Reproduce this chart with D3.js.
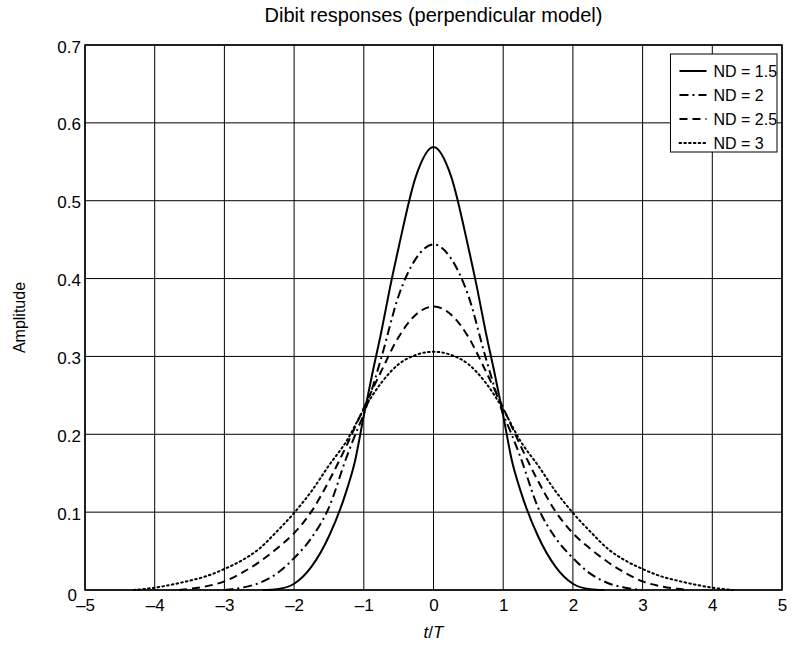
<!DOCTYPE html>
<html>
<head>
<meta charset="utf-8">
<script src="https://cdn.jsdelivr.net/npm/d3@7/dist/d3.min.js"></script>
<style>
  html, body { margin: 0; padding: 0; background: #fff; }
  svg { display: block; }
  text { font-family: "Liberation Sans", Arial, Helvetica, sans-serif; fill: #000; }
</style>
</head>
<body>
<script>
// ---- data ----
const seriesNames = ["ND = 1.5", "ND = 2", "ND = 2.5", "ND = 3"];

const tND15 = [-2.45,-2.25,-2,-1.75,-1.5,-1.25,-1.125,-1,-0.875,-0.75,-0.625,-0.5,-0.25,0,0.25,0.5,0.625,0.75,0.875,1,1.125,1.25,1.5,1.75,2,2.25,2.45];
const vND15 = [0,0.001,0.008,0.030,0.069,0.127,0.166,0.224,0.279,0.331,0.388,0.440,0.532,0.569,0.532,0.440,0.388,0.331,0.279,0.224,0.166,0.127,0.069,0.030,0.008,0.001,0];

const tND2 = [-3,-2.75,-2.5,-2.25,-2,-1.75,-1.5,-1.25,-1.125,-1,-0.75,-0.5,-0.25,0,0.25,0.5,0.75,1,1.125,1.25,1.5,1.75,2,2.25,2.5,2.75,3];
const vND2 = [0,0.003,0.009,0.021,0.041,0.067,0.106,0.170,0.199,0.226,0.298,0.378,0.426,0.444,0.426,0.378,0.298,0.226,0.199,0.170,0.106,0.067,0.041,0.021,0.009,0.003,0];

const tND25 = [-3.65,-3.5,-3.25,-3,-2.75,-2.5,-2.25,-2,-1.75,-1.5,-1.25,-1,-0.75,-0.5,-0.25,0,0.25,0.5,0.75,1,1.25,1.5,1.75,2,2.25,2.5,2.75,3,3.25,3.5,3.65];
const vND25 = [0,0.0015,0.005,0.011,0.022,0.036,0.053,0.073,0.101,0.140,0.185,0.234,0.281,0.325,0.354,0.364,0.354,0.325,0.281,0.234,0.185,0.140,0.101,0.073,0.053,0.036,0.022,0.011,0.005,0.0015,0];

const tND3 = [-4.3,-4,-3.75,-3.5,-3.25,-3,-2.75,-2.5,-2.25,-2,-1.75,-1.5,-1.25,-1,-0.75,-0.5,-0.25,0,0.25,0.5,0.75,1,1.25,1.5,1.75,2,2.25,2.5,2.75,3,3.25,3.5,3.75,4,4.3];
const vND3 = [0,0.003,0.007,0.012,0.018,0.027,0.038,0.053,0.075,0.099,0.127,0.160,0.191,0.232,0.266,0.290,0.302,0.306,0.302,0.290,0.266,0.232,0.191,0.160,0.127,0.099,0.075,0.053,0.038,0.027,0.018,0.012,0.007,0.003,0];

const xTicks = [-5,-4,-3,-2,-1,0,1,2,3,4,5];
const yTicks = [0,0.1,0.2,0.3,0.4,0.5,0.6,0.7];

const titleText = "Dibit responses (perpendicular model)";
const xLabelItalic1 = "t";
const xLabelMid = "/";
const xLabelItalic2 = "T";
const yLabelText = "Amplitude";

// ---- layout ----
const W = 802, H = 650;
const margin = { left: 85, right: 20, top: 45, bottom: 60 };
const plotW = W - margin.left - margin.right;   // 697
const plotH = H - margin.top - margin.bottom;   // 545

const svg = d3.select("body").append("svg").attr("width", W).attr("height", H);
const g = svg.append("g").attr("transform", `translate(${margin.left},${margin.top})`);

const x = d3.scaleLinear().domain([-5, 5]).range([0, plotW]);
const y = d3.scaleLinear().domain([0, 0.7]).range([plotH, 0]);

// grid
g.append("g").selectAll("line").data(xTicks).join("line")
  .attr("x1", d => x(d)).attr("x2", d => x(d)).attr("y1", 0).attr("y2", plotH)
  .attr("stroke", "#000").attr("stroke-width", 1);
g.append("g").selectAll("line").data(yTicks).join("line")
  .attr("x1", 0).attr("x2", plotW).attr("y1", d => y(d)).attr("y2", d => y(d))
  .attr("stroke", "#000").attr("stroke-width", 1);

// axes
const fmtX = d => d < 0 ? "\u2013" + Math.abs(d) : String(d);
const xAxis = g.append("g").attr("transform", `translate(0,${plotH})`)
  .call(d3.axisBottom(x).tickValues(xTicks).tickFormat(fmtX).tickSize(0).tickPadding(9));
xAxis.select(".domain").remove();
xAxis.selectAll("text").attr("font-size", 17).style("font-family", null);

const yAxis = g.append("g")
  .call(d3.axisLeft(y).tickValues(yTicks).tickFormat(d => d === 0 ? "0" : d3.format(".1f")(d)).tickSize(0).tickPadding(4));
yAxis.select(".domain").remove();
yAxis.selectAll("text").attr("font-size", 17).attr("dy", "0.42em").style("font-family", null);
yAxis.selectAll("text").filter(d => d === 0).attr("dy", "0.6em").attr("dx", "-4");

// frame
g.append("rect").attr("x", 0).attr("y", 0).attr("width", plotW).attr("height", plotH)
  .attr("fill", "none").attr("stroke", "#000").attr("stroke-width", 1.5);

// series
const styles = [
  { dash: null },
  { dash: "9,4,2,4" },
  { dash: "8,5" },
  { dash: "1.6,3.2" }
];
const seriesData = [
  d3.zip(tND15, vND15),
  d3.zip(tND2, vND2),
  d3.zip(tND25, vND25),
  d3.zip(tND3, vND3)
];
const line = d3.line().x(d => x(d[0])).y(d => y(d[1])).curve(d3.curveMonotoneX);
seriesData.forEach((data, i) => {
  g.append("path").datum(data).attr("d", line)
    .attr("fill", "none").attr("stroke", "#000").attr("stroke-width", 2)
    .attr("stroke-dasharray", styles[i].dash)
    .attr("stroke-linecap", i === 3 ? "round" : "butt");
});

// legend
const lg = g.append("g").attr("transform", `translate(${x(3.4)},${9})`);
const lgW = x(5) - 5 - x(3.4), lgH = 98;
lg.append("rect").attr("width", lgW).attr("height", lgH)
  .attr("fill", "#fff").attr("stroke", "#000").attr("stroke-width", 1);
seriesNames.forEach((name, i) => {
  const yy = 17 + i * 24;
  lg.append("line").attr("x1", 9).attr("x2", 36).attr("y1", yy).attr("y2", yy)
    .attr("stroke", "#000").attr("stroke-width", 2)
    .attr("stroke-dasharray", styles[i].dash)
    .attr("stroke-linecap", i === 3 ? "round" : "butt");
  lg.append("text").attr("x", 43).attr("y", yy).attr("dy", "0.36em")
    .attr("font-size", 16).text(name);
});

// title
svg.append("text").attr("x", margin.left + plotW / 2).attr("y", 22)
  .attr("text-anchor", "middle").attr("font-size", 20).text(titleText);

// x label
const xl = svg.append("text").attr("x", margin.left + plotW / 2).attr("y", 638)
  .attr("text-anchor", "middle").attr("font-size", 17);
xl.append("tspan").attr("font-style", "italic").text(xLabelItalic1);
xl.append("tspan").text(xLabelMid);
xl.append("tspan").attr("font-style", "italic").text(xLabelItalic2);

// y label
svg.append("text").attr("transform", `translate(25,${margin.top + plotH / 2}) rotate(-90)`)
  .attr("text-anchor", "middle").attr("font-size", 16).text(yLabelText);
</script>
</body>
</html>
